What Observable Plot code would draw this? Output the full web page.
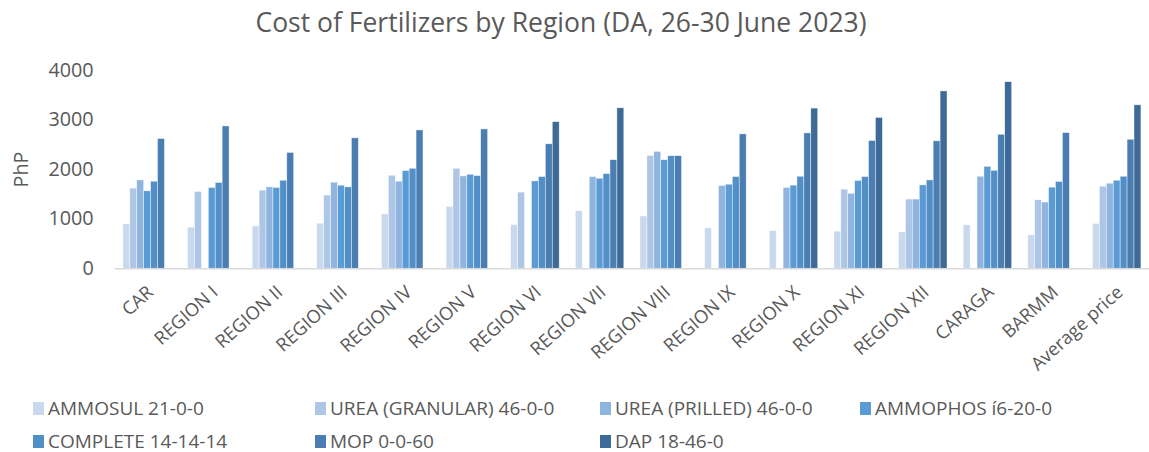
<!DOCTYPE html>
<html>
<head>
<meta charset="utf-8">
<script src="https://cdn.jsdelivr.net/npm/d3@7"></script>
<script src="https://cdn.jsdelivr.net/npm/@observablehq/plot@0.6"></script>
<style>
  html, body { margin: 0; padding: 0; background: #fff; overflow: hidden; width: 1149px; height: 452px; }
  body { font-family: "Open Sans", sans-serif; color: #595959; position: relative; }
  #title { width: 1122px; height: 50px; line-height: 44px; text-align: center; font-size: 26.5px; white-space: nowrap; }
  #chart { height: 340px; overflow: visible; }
  #chart svg { display: block; overflow: visible; }
  #legend { position: absolute; left: 0; top: 391.5px; width: 1149px; font-size: 19px; }
  .row { display: flex; height: 33px; align-items: center; padding-left: 33px; }
  .item { display: flex; align-items: center; white-space: nowrap; }
  .sw { width: 11px; height: 13px; margin-right: 4px; flex: none; }
</style>
</head>
<body>
<div id="title">Cost of Fertilizers by Region (DA, 26-30 June 2023)</div>
<div id="chart"></div>
<div id="legend"></div>
<script>
const regions = ["CAR","REGION I","REGION II","REGION III","REGION IV","REGION V","REGION VI","REGION VII","REGION VIII","REGION IX","REGION X","REGION XI","REGION XII","CARAGA","BARMM","Average price"];
const seriesNames = ["AMMOSUL 21-0-0","UREA (GRANULAR) 46-0-0","UREA (PRILLED) 46-0-0","AMMOPHOS í6-20-0","COMPLETE 14-14-14","MOP 0-0-60","DAP 18-46-0"];
const seriesColors = ["#c8d8ed","#aec6e6","#8eb4df","#5b9bd5","#528fc7","#4a7eb3","#3e6a97"];

const ammosul      = [894, 828, 854, 908, 1094, 1248, 880, 1160, 1054, 814, 760, 748, 734, 874, 674, 900];
const ureaGranular = [1614, 1548, 1574, 1474, 1874, 2014, 1534, null, 2274, null, null, 1594, 1394, null, 1380, 1654];
const ureaPrilled  = [1780, null, 1640, 1734, 1754, 1860, null, 1848, 2354, 1668, 1628, 1508, 1394, 1854, 1334, 1714];
const ammophos     = [1560, 1628, 1628, 1674, 1968, 1894, 1760, 1814, 2188, 1694, 1674, 1768, 1680, 2054, 1634, 1774];
const complete     = [1754, 1728, 1774, 1640, 2014, 1868, 1848, 1908, 2268, 1848, 1854, 1848, 1780, 1974, 1748, 1854];
const mop          = [2614, 2868, 2334, 2628, 2788, 2808, 2508, 2188, 2268, 2708, 2728, 2574, 2568, 2700, 2734, 2600];
const dap          = [null, null, null, null, null, null, 2954, 3234, null, null, 3228, 3040, 3574, 3760, null, 3294];

const yTicks = [0, 1000, 2000, 3000, 4000];

const seriesValues = [ammosul, ureaGranular, ureaPrilled, ammophos, complete, mop, dap];
const data = [];
regions.forEach((r, i) => {
  seriesNames.forEach((s, k) => {
    const v = seriesValues[k][i];
    if (v != null) data.push({region: r, series: s, value: v});
  });
});

const chart = Plot.plot({
  width: 1161,
  height: 340,
  marginLeft: 116,
  marginRight: 0,
  marginTop: 20,
  marginBottom: 119.5,
  style: {fontFamily: "'Open Sans', sans-serif", color: "#595959", background: "transparent", overflow: "visible"},
  fx: {domain: regions, paddingInner: 0.25, paddingOuter: 0.125, round: false, label: null, axis: null},
  x: {domain: seriesNames, padding: 0, round: false, axis: null},
  y: {domain: [0, 4000], axis: null},
  color: {domain: seriesNames, range: seriesColors},
  marks: [
    Plot.axisY({ticks: yTicks, tickSize: 0, tickPadding: 30, fontSize: 20, tickFormat: d => String(d),
      label: "PhP", labelAnchor: "center", labelArrow: "none", labelOffset: 111}),
    Plot.axisFx({anchor: "bottom", tickRotate: -42, tickSize: 0, tickPadding: 21, dx: 3, fontSize: 18.5, label: null}),
    Plot.barY(data, {fx: "region", x: "series", y: "value", fill: "series", stroke: "white", strokeWidth: 0.6, strokeOpacity: 0.7}),
    Plot.ruleY([0], {stroke: "#d9d9d9", strokeWidth: 1.5, insetLeft: -8.2, insetRight: -8.2})
  ]
});
document.getElementById("chart").appendChild(chart);

// Legend
const legend = document.getElementById("legend");
const colWidths = [282, 285, 260, 280];
const rows = [seriesNames.slice(0, 4), seriesNames.slice(4)];
rows.forEach(names => {
  const row = document.createElement("div");
  row.className = "row";
  names.forEach((n, j) => {
    const item = document.createElement("div");
    item.className = "item";
    item.style.width = colWidths[j] + "px";
    const sw = document.createElement("span");
    sw.className = "sw";
    sw.style.background = seriesColors[seriesNames.indexOf(n)];
    const t = document.createElement("span");
    t.textContent = n;
    item.appendChild(sw);
    item.appendChild(t);
    row.appendChild(item);
  });
  legend.appendChild(row);
});
</script>
</body>
</html>
